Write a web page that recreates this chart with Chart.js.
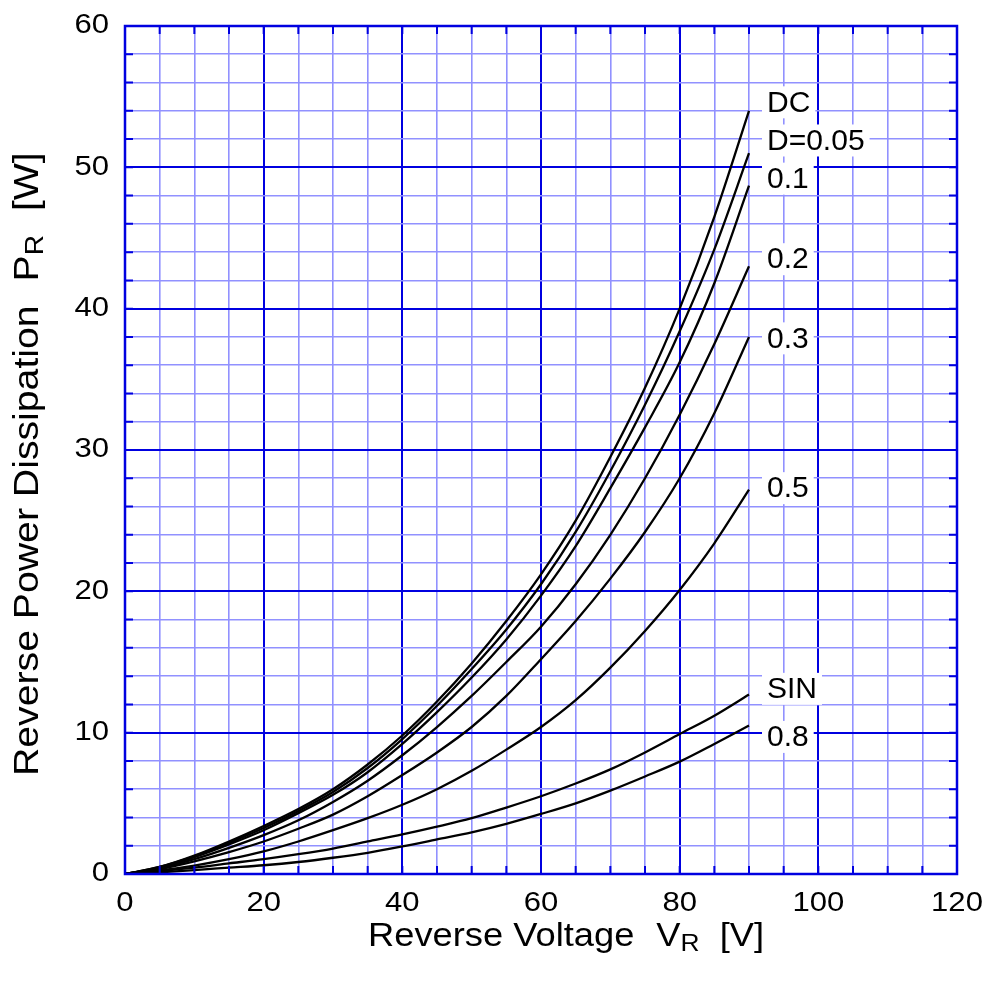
<!DOCTYPE html>
<html>
<head>
<meta charset="utf-8">
<script src="https://cdn.jsdelivr.net/npm/chart.js@4.4.1/dist/chart.umd.min.js"></script>
<style>
  body { margin: 0; background: #fff; }
  canvas { display: block; }
</style>
</head>
<body>
<canvas id="chartCanvas" width="994" height="1003"></canvas>
<script>
// Reverse voltage points [V]
const vr = [0, 5, 10, 15, 20, 25, 30, 35, 40, 45, 50, 55, 60, 65, 70, 75, 80, 85, 90];

// Reverse power dissipation [W] per duty cycle
const pDC   = [0, 0.5, 1.3, 2.3, 3.4, 4.6, 6.0, 7.75, 9.8, 12.2, 14.9, 17.9, 21.2, 25.0, 29.5, 34.4, 40.0, 46.5, 54.0];
const pD005 = [0, 0.5, 1.25, 2.2, 3.25, 4.45, 5.8, 7.5, 9.55, 11.9, 14.5, 17.3, 20.5, 24.2, 28.5, 33.2, 38.4, 44.2, 51.0];
const pD01  = [0, 0.45, 1.2, 2.1, 3.1, 4.3, 5.6, 7.2, 9.2, 11.45, 13.9, 16.6, 19.7, 23.2, 27.3, 31.6, 36.2, 41.8, 48.7];
const pD02  = [0, 0.4, 1.05, 1.85, 2.75, 3.8, 5.1, 6.6, 8.4, 10.4, 12.6, 15.0, 17.5, 20.5, 24.0, 28.0, 32.5, 37.5, 43.0];
const pD03  = [0, 0.35, 0.9, 1.55, 2.3, 3.2, 4.2, 5.5, 7.0, 8.6, 10.4, 12.6, 15.2, 17.9, 20.9, 24.2, 28.0, 32.6, 38.0];
const pD05  = [0, 0.25, 0.6, 1.05, 1.6, 2.3, 3.1, 3.95, 4.9, 6.0, 7.3, 8.8, 10.4, 12.3, 14.6, 17.2, 20.1, 23.4, 27.2];
const pSIN  = [0, 0.2, 0.45, 0.75, 1.05, 1.4, 1.8, 2.3, 2.8, 3.35, 3.95, 4.7, 5.5, 6.4, 7.4, 8.6, 9.9, 11.2, 12.7];
const pD08  = [0, 0.12, 0.28, 0.45, 0.62, 0.85, 1.15, 1.5, 1.95, 2.45, 2.95, 3.55, 4.25, 5.0, 5.9, 6.9, 7.95, 9.2, 10.5];

const seriesNames = ['DC', 'D=0.05', '0.1', '0.2', '0.3', '0.5', 'SIN', '0.8'];
const seriesData = [pDC, pD005, pD01, pD02, pD03, pD05, pSIN, pD08];
// where each curve name sits, in watts
const labelAt = [54.6, 51.9, 49.2, 43.5, 37.9, 27.3, 13.1, 9.7];

const DARK = '#0000e0';
const LIGHT = 'rgb(145,145,255)';
const FONT = '"Liberation Sans", Arial, sans-serif';

// text stretched horizontally, like the scanned original
function stretchedText(ctx, text, x, y, stretch, align) {
  const w = ctx.measureText(text).width * stretch;
  let x0 = x;
  if (align === 'right') x0 = x - w;
  if (align === 'center') x0 = x - w / 2;
  ctx.save();
  ctx.translate(x0, y);
  ctx.scale(stretch, 1);
  ctx.textAlign = 'left';
  ctx.fillText(text, 0, 0);
  ctx.restore();
  return w;
}

// draws a title made of parts, starting at 0 along the current x direction
function drawParts(ctx, parts, stretch) {
  let cx = 0;
  parts.forEach(p => {
    if (p.gap) { cx += p.gap; return; }
    ctx.font = p.size + 'px ' + FONT;
    cx += stretchedText(ctx, p.t, cx, p.dy || 0, stretch, 'left');
  });
}

// inner tick marks, frame, tick labels, curve names and axis titles
const frameTicks = {
  id: 'frameTicks',
  afterDatasetsDraw(chart) {
    const { ctx, chartArea: a, scales: { x, y } } = chart;
    ctx.save();
    ctx.strokeStyle = DARK;
    ctx.lineWidth = 2;
    ctx.beginPath();
    x.ticks.forEach(t => {
      const px = x.getPixelForValue(t.value);
      ctx.moveTo(px, a.bottom); ctx.lineTo(px, a.bottom - 8);
      ctx.moveTo(px, a.top); ctx.lineTo(px, a.top + 8);
    });
    y.ticks.forEach(t => {
      const py = y.getPixelForValue(t.value);
      ctx.moveTo(a.left, py); ctx.lineTo(a.left + 8, py);
      ctx.moveTo(a.right, py); ctx.lineTo(a.right - 8, py);
    });
    ctx.stroke();
    ctx.lineWidth = 2.5;
    ctx.strokeRect(a.left, a.top, a.right - a.left, a.bottom - a.top);

    // tick labels
    ctx.fillStyle = '#000';
    ctx.font = '27px ' + FONT;
    ctx.textBaseline = 'middle';
    x.ticks.filter(t => t.value % 20 === 0).forEach(t => {
      stretchedText(ctx, String(t.value), x.getPixelForValue(t.value), a.bottom + 30, 1.15, 'center');
    });
    y.ticks.filter(t => t.value % 10 === 0).forEach(t => {
      stretchedText(ctx, String(t.value), a.left - 16, y.getPixelForValue(t.value), 1.15, 'right');
    });

    // curve names with white boxes
    ctx.font = '30px ' + FONT;
    ctx.textAlign = 'left';
    const lx = x.getPixelForValue(vr[vr.length - 1]) + 18;
    seriesNames.forEach((name, i) => {
      const py = y.getPixelForValue(labelAt[i]);
      const w = ctx.measureText(name).width;
      ctx.fillStyle = '#fff';
      ctx.fillRect(lx - 5, py - 16, w + 10, 32);
      ctx.fillStyle = '#000';
      ctx.fillText(name, lx, py + 1);
    });

    // axis titles with subscripts
    ctx.fillStyle = '#000';
    ctx.textBaseline = 'alphabetic';
    ctx.save();
    ctx.translate(368, 946);
    drawParts(ctx, [
      { t: 'Reverse Voltage', size: 33 },
      { gap: 22 },
      { t: 'V', size: 33 },
      { t: 'R', size: 24, dy: 5 },
      { gap: 20 },
      { t: '[V]', size: 33 }
    ], 1.1);
    ctx.restore();
    ctx.save();
    ctx.translate(38, 776);
    ctx.rotate(-Math.PI / 2);
    drawParts(ctx, [
      { t: 'Reverse Power Dissipation', size: 35 },
      { gap: 24 },
      { t: 'P', size: 35 },
      { t: 'R', size: 25, dy: 5 },
      { gap: 24 },
      { t: '[W]', size: 35 }
    ], 1.12);
    ctx.restore();
    ctx.restore();
  }
};

const datasets = seriesNames.map((name, i) => ({
  label: name,
  data: vr.map((v, j) => ({ x: v, y: seriesData[i][j] })),
  borderColor: '#000',
  borderWidth: 2.3,
  pointRadius: 0,
  cubicInterpolationMode: 'monotone',
  fill: false
}));

const ctx = document.getElementById('chartCanvas').getContext('2d');
new Chart(ctx, {
  type: 'line',
  data: { datasets },
  options: {
    responsive: false,
    animation: false,
    layout: { padding: { top: 26, right: 37, left: 0, bottom: 0 } },
    plugins: {
      legend: { display: false },
      tooltip: { enabled: false }
    },
    scales: {
      x: {
        type: 'linear',
        min: 0,
        max: 120,
        afterFit: s => { s.height = 129; },
        ticks: { stepSize: 5, autoSkip: false, display: false },
        grid: {
          drawTicks: false,
          color: c => (c.tick && c.tick.value % 20 === 0 ? DARK : LIGHT),
          lineWidth: c => (c.tick && c.tick.value % 20 === 0 ? 2 : 1.6)
        },
        border: { display: false }
      },
      y: {
        min: 0,
        max: 60,
        afterFit: s => { s.width = 125; },
        ticks: { stepSize: 2, autoSkip: false, display: false },
        grid: {
          drawTicks: false,
          color: c => (c.tick && c.tick.value % 10 === 0 ? DARK : LIGHT),
          lineWidth: c => (c.tick && c.tick.value % 10 === 0 ? 2 : 1.6)
        },
        border: { display: false }
      }
    }
  },
  plugins: [frameTicks]
});
</script>
</body>
</html>
